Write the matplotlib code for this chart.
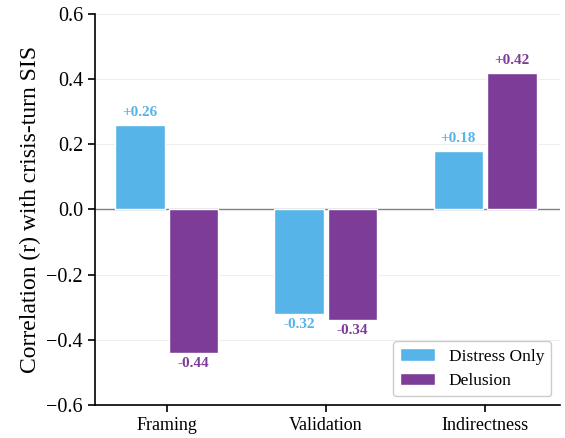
import matplotlib
matplotlib.use("Agg")
import matplotlib.pyplot as plt
import numpy as np

categories = ["Framing", "Validation", "Indirectness"]
distress = [0.26, -0.32, 0.18]
delusion = [-0.44, -0.34, 0.42]
series_names = ["Distress Only", "Delusion"]
colors = ["#56B4E9", "#7D3C98"]

plt.rcParams['font.family'] = ['Liberation Serif', 'DejaVu Serif']

fig = plt.figure(figsize=(5.65, 4.38), dpi=100)
ax = fig.add_axes([0.168, 0.0753, 0.823, 0.893])

x = np.arange(len(categories))
w = 0.31
off = 0.168
for vals, sgn, c, name in [(distress, -1, colors[0], series_names[0]), (delusion, 1, colors[1], series_names[1])]:
    bars = ax.bar(x + sgn * off, vals, w, color=c, edgecolor='white', linewidth=1, label=name, zorder=3)
    for b, v in zip(bars, vals):
        xc = b.get_x() + b.get_width() / 2
        if v >= 0:
            ax.text(xc, v + 0.018, f"+{v:.2f}", ha='center', va='bottom', color=c, fontsize=11, fontweight='bold')
        else:
            ax.text(xc, v - 0.012, f"{v:.2f}", ha='center', va='top', color=c, fontsize=11, fontweight='bold')

ax.axhline(0, color='#808080', linewidth=1, zorder=2)
ax.set_ylim(-0.6, 0.6)
ax.set_xlim(-0.45, 2.47)
ax.set_yticks(np.arange(-0.6, 0.61, 0.2))
ax.set_yticklabels([f"{t:.1f}".replace("-", "\u2212") for t in np.arange(-0.6, 0.61, 0.2)])
ax.set_xticks(x)
ax.set_xticklabels(categories)
ax.tick_params(axis='x', labelsize=13, length=5, width=1.2)
ax.tick_params(axis='y', labelsize=14.5, length=5, width=1.2)
ax.yaxis.grid(True, color='#eeeeee', linewidth=0.8, zorder=0)
ax.set_axisbelow(True)
ax.spines['top'].set_visible(False)
ax.spines['right'].set_visible(False)
ax.spines['left'].set_linewidth(1.2)
ax.spines['bottom'].set_linewidth(1.2)
ax.set_ylabel("Correlation (r) with crisis-turn SIS", fontsize=17)
ax.legend(loc='lower right', fontsize=12.5, frameon=True, edgecolor='#cccccc', framealpha=1)

fig.savefig("out.png", dpi=100)
